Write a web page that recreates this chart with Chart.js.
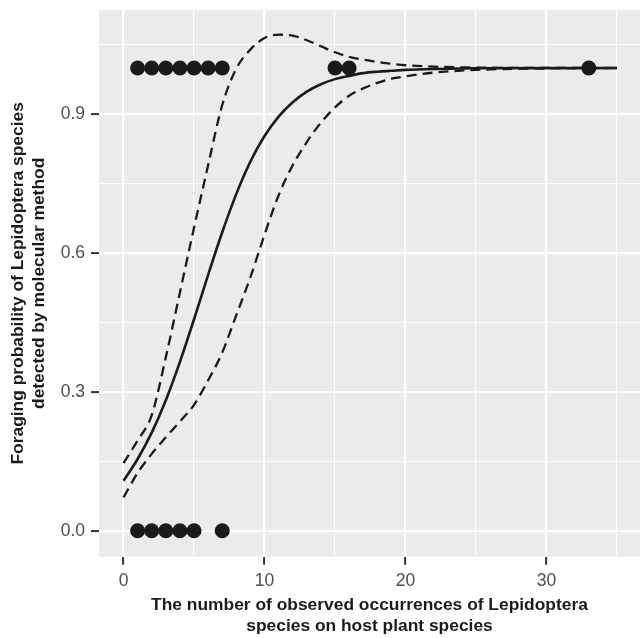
<!DOCTYPE html>
<html>
<head>
<meta charset="utf-8">
<script src="https://cdn.jsdelivr.net/npm/chart.js@4.4.1/dist/chart.umd.min.js"></script>
<style>
  html, body { margin: 0; padding: 0; background: #ffffff; }
  #wrap { width: 640px; height: 638px; }
</style>
</head>
<body>
<div id="wrap"><canvas id="fitChart" width="640" height="638"></canvas></div>
<script>
// observed occurrences (x) and detection (0/1)
const detectedX = [1, 2, 3, 4, 5, 6, 7, 15, 16, 33];
const missedX = [1, 2, 3, 4, 5, 7];

// fitted curve and confidence band
const curveX = [0, 1, 2, 3, 4, 5, 6, 7, 8, 9, 10, 11, 12, 13, 14, 15, 16, 17, 18, 19, 20, 22, 25, 30, 35];
const fitP = [0.108, 0.155, 0.212, 0.282, 0.365, 0.457, 0.553, 0.645, 0.728, 0.798, 0.853, 0.895, 0.926, 0.949, 0.965, 0.976, 0.983, 0.989, 0.992, 0.994, 0.996, 0.998, 0.9995, 1.0, 1.0];
const upperP = [0.146, 0.195, 0.25, 0.375, 0.515, 0.655, 0.79, 0.92, 0.999, 1.04, 1.065, 1.072, 1.07, 1.06, 1.047, 1.034, 1.024, 1.018, 1.013, 1.009, 1.006, 1.003, 1.001, 1.0, 1.0];
const lowerP = [0.072, 0.125, 0.166, 0.202, 0.236, 0.272, 0.325, 0.385, 0.466, 0.548, 0.64, 0.725, 0.79, 0.84, 0.882, 0.915, 0.94, 0.956, 0.968, 0.977, 0.982, 0.99, 0.996, 0.999, 1.0];

// axis ticks
const xMajor = [0, 10, 20, 30];
const xMinor = [5, 15, 25, 35];
const yMajor = [0, 0.3, 0.6, 0.9];
const yMinor = [0.15, 0.45, 0.75, 1.05];

const ink = "#1a1a1a";
const tickFont = { family: "'Liberation Sans', Arial, sans-serif", size: 17.5 };
const titleFont = { family: "'Liberation Sans', Arial, sans-serif", size: 17.4, weight: "bold", lineHeight: "21px" };

const toPts = (xs, ys) => xs.map((x, i) => ({ x: x, y: ys[i] }));
const isMajor = (list, v) => list.some((m) => Math.abs(m - v) < 1e-9);

const panelBg = {
  id: "panelBg",
  beforeDraw(chart) {
    const a = chart.chartArea;
    const c = chart.ctx;
    c.save();
    c.fillStyle = "#ebebeb";
    c.fillRect(a.left, a.top, a.right - a.left, a.bottom - a.top);
    c.restore();
  },
};

const lineSet = (ys, dashed, order) => ({
  type: "line",
  data: toPts(curveX, ys),
  borderColor: ink,
  borderWidth: dashed ? 2.3 : 2.6,
  borderDash: dashed ? [10, 6] : [],
  pointRadius: 0,
  cubicInterpolationMode: "monotone",
  fill: false,
  order: order,
});

const ctx = document.getElementById("fitChart").getContext("2d");
const fitChart = new Chart(ctx, {
  type: "scatter",
  data: {
    datasets: [
      {
        data: detectedX.map((x) => ({ x: x, y: 1 })),
        backgroundColor: ink,
        borderWidth: 0,
        pointRadius: 7.5,
        order: 1,
      },
      {
        data: missedX.map((x) => ({ x: x, y: 0 })),
        backgroundColor: ink,
        borderWidth: 0,
        pointRadius: 7.5,
        order: 1,
      },
      lineSet(fitP, false, 2),
      lineSet(upperP, true, 3),
      lineSet(lowerP, true, 3),
    ],
  },
  plugins: [panelBg],
  options: {
    responsive: false,
    animation: false,
    events: [],
    layout: { autoPadding: false, padding: { top: 10, left: 0, right: 0, bottom: 0 } },
    plugins: { legend: { display: false }, tooltip: { enabled: false } },
    scales: {
      x: {
        type: "linear",
        min: -1.74,
        max: 36.63,
        afterBuildTicks: (s) => { s.ticks = xMajor.concat(xMinor).sort((a, b) => a - b).map((v) => ({ value: v })); },
        afterFit: (s) => { s.height = 81.3; s.paddingLeft = 0; s.paddingRight = 0; },
        border: { display: false },
        grid: {
          color: "#ffffff",
          lineWidth: (c) => (isMajor(xMajor, c.tick.value) ? 2.2 : 1.1),
          tickColor: (c) => (isMajor(xMajor, c.tick.value) ? "#333333" : "rgba(0,0,0,0)"),
          tickLength: 8,
          tickWidth: 2,
        },
        ticks: {
          autoSkip: false,
          maxRotation: 0,
          padding: 6,
          color: "#4d4d4d",
          font: tickFont,
          callback: (v) => (isMajor(xMajor, v) ? String(v) : ""),
        },
        title: {
          display: true,
          text: ["The number of observed occurrences of Lepidoptera", "species on host plant species"],
          color: ink,
          font: titleFont,
          padding: { top: 0, bottom: 1 },
        },
      },
      y: {
        type: "linear",
        min: -0.0562,
        max: 1.1254,
        afterBuildTicks: (s) => { s.ticks = yMajor.concat(yMinor).sort((a, b) => a - b).map((v) => ({ value: v })); },
        afterFit: (s) => { s.width = 99; s.paddingTop = 0; s.paddingBottom = 0; },
        border: { display: false },
        grid: {
          color: "#ffffff",
          lineWidth: (c) => (isMajor(yMajor, c.tick.value) ? 2.2 : 1.1),
          tickColor: (c) => (isMajor(yMajor, c.tick.value) ? "#333333" : "rgba(0,0,0,0)"),
          tickLength: 8,
          tickWidth: 2,
        },
        ticks: {
          autoSkip: false,
          padding: 6,
          color: "#4d4d4d",
          font: tickFont,
          callback: (v) => (isMajor(yMajor, v) ? v.toFixed(1) : ""),
        },
        title: {
          display: true,
          text: ["Foraging probability of Lepidoptera species", "detected by molecular method"],
          color: ink,
          font: titleFont,
          padding: { top: 8, bottom: 0 },
        },
      },
    },
  },
});
</script>
</body>
</html>
